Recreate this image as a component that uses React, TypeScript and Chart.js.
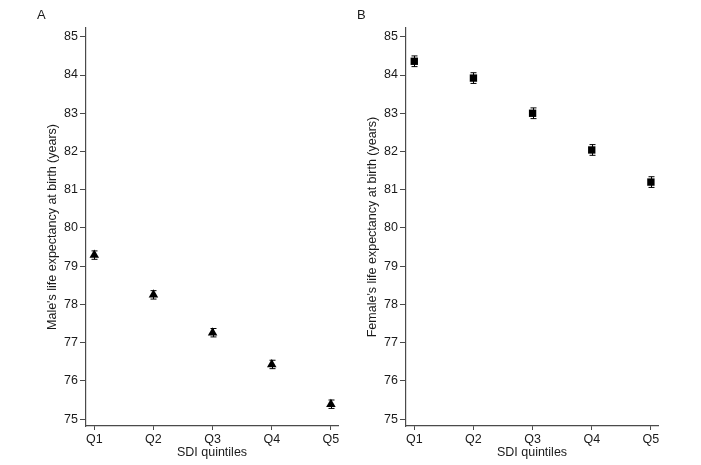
import React, { useEffect, useRef } from "react";
import { Chart, registerables } from "chart.js";

Chart.register(...registerables);

const categories = ["Q1", "Q2", "Q3", "Q4", "Q5"];
const xPositions = [1, 2, 3, 4, 5];
const yTicks = [75, 76, 77, 78, 79, 80, 81, 82, 83, 84, 85];

const maleMean = [79.29, 78.25, 77.26, 76.43, 75.39];
const maleLow = [79.18, 78.14, 77.15, 76.32, 75.28];
const maleHigh = [79.4, 78.36, 77.37, 76.54, 75.5];

const femaleMean = [84.36, 83.92, 83.0, 82.04, 81.2];
const femaleLow = [84.22, 83.78, 82.86, 81.9, 81.06];
const femaleHigh = [84.5, 84.06, 83.14, 82.18, 81.34];

const FONT = "'Liberation Sans', Arial, Helvetica, sans-serif";
const AXIS = "#4a4a4a";
const TEXT = "#1a1a1a";

type PanelProps = {
  letter: string;
  yTitle: string;
  mean: number[];
  low: number[];
  high: number[];
  pointStyle: string;
  radius: number;
};

function Panel({ letter, yTitle, mean, low, high, pointStyle, radius }: PanelProps) {
  const ref = useRef<HTMLCanvasElement | null>(null);
  useEffect(() => {
    if (!ref.current) return;
    const errorBars = {
      id: "errorBars",
      beforeDatasetsDraw(chart: any) {
        const ctx = chart.ctx;
        const xs = chart.scales.x;
        const ys = chart.scales.y;
        ctx.save();
        ctx.strokeStyle = "#000";
        ctx.lineWidth = 1;
        xPositions.forEach((xv, i) => {
          const px = Math.round(xs.getPixelForValue(xv)) + 0.5;
          const y1 = ys.getPixelForValue(low[i]);
          const y2 = ys.getPixelForValue(high[i]);
          ctx.beginPath();
          ctx.moveTo(px, y1);
          ctx.lineTo(px, y2);
          ctx.moveTo(px - 3, y1);
          ctx.lineTo(px + 3, y1);
          ctx.moveTo(px - 3, y2);
          ctx.lineTo(px + 3, y2);
          ctx.stroke();
        });
        ctx.restore();
      },
    };
    const panelLetter = {
      id: "panelLetter",
      afterDraw(chart: any) {
        const ctx = chart.ctx;
        ctx.save();
        ctx.fillStyle = TEXT;
        ctx.font = `13px ${FONT}`;
        ctx.textBaseline = "middle";
        ctx.textAlign = "left";
        ctx.fillText(letter, 37, 15);
        ctx.restore();
      },
    };
    const chart = new Chart(ref.current, {
      type: "scatter",
      data: {
        datasets: [
          {
            data: xPositions.map((x, i) => ({ x, y: mean[i] })),
            pointStyle: pointStyle as any,
            pointRadius: radius,
            pointHoverRadius: radius,
            backgroundColor: "#000",
            borderColor: "#000",
            borderWidth: 0,
          },
        ],
      },
      options: {
        responsive: false,
        animation: false,
        events: [],
        layout: { padding: { left: 45, top: 28, right: 12, bottom: 0 } },
        plugins: { legend: { display: false }, tooltip: { enabled: false } },
        scales: {
          x: {
            type: "linear",
            min: 0.86,
            max: 5.12,
            afterBuildTicks: (s: any) => {
              s.ticks = xPositions.map((v) => ({ value: v }));
            },
            afterFit: (s: any) => {
              s.height = 39;
            },
            ticks: {
              callback: (v: any) => categories[Number(v) - 1] ?? "",
              color: TEXT,
              font: { family: FONT, size: 12.5 },
              padding: 2,
              maxRotation: 0,
              autoSkip: false,
            },
            grid: { display: true, drawOnChartArea: false, drawTicks: true, tickLength: 4, color: AXIS },
            border: { display: true, color: AXIS, width: 1.2 },
            title: {
              display: true,
              text: "SDI quintiles",
              color: TEXT,
              font: { family: FONT, size: 12.5 },
              padding: { top: 0, bottom: 5 },
            },
          },
          y: {
            type: "linear",
            min: 74.82,
            max: 85.23,
            afterBuildTicks: (s: any) => {
              s.ticks = yTicks.map((v) => ({ value: v }));
            },
            afterFit: (s: any) => {
              s.width = 41;
            },
            ticks: {
              color: TEXT,
              font: { family: FONT, size: 12.5 },
              padding: 2,
            },
            grid: { display: true, drawOnChartArea: false, drawTicks: true, tickLength: 6, color: AXIS },
            border: { display: true, color: AXIS, width: 1.2 },
            title: {
              display: true,
              text: yTitle,
              color: TEXT,
              font: { family: FONT, size: 12.5 },
              padding: { top: 0, bottom: 0 },
            },
          },
        },
      },
      plugins: [errorBars, panelLetter],
    } as any);
    return () => chart.destroy();
  }, []);
  return <canvas ref={ref} width={350} height={465} style={{ width: 350, height: 465, display: "block" }} />;
}

export default function App() {
  return (
    <div style={{ position: "absolute", left: 0, top: 0, width: 701, height: 465, background: "#fff" }}>
      <div style={{ position: "absolute", left: 0, top: 0 }}>
        <Panel
          letter="A"
          yTitle="Male's life expectancy at birth (years)"
          mean={maleMean}
          low={maleLow}
          high={maleHigh}
          pointStyle="triangle"
          radius={5.5}
        />
      </div>
      <div style={{ position: "absolute", left: 320, top: 0 }}>
        <Panel
          letter="B"
          yTitle="Female's life expectancy at birth (years)"
          mean={femaleMean}
          low={femaleLow}
          high={femaleHigh}
          pointStyle="rect"
          radius={5.2}
        />
      </div>
    </div>
  );
}
